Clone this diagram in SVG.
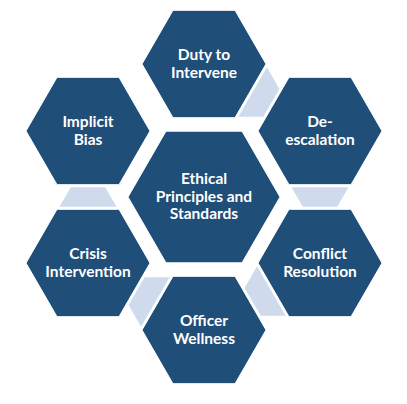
<svg xmlns="http://www.w3.org/2000/svg" width="407" height="404" viewBox="0 0 407 404">
<style>
.hex{fill:#1F4E79;stroke:#ffffff;stroke-width:1}
.conn{fill:#CFDAEC;stroke:none}
.lbl{font-family:"Lato","Liberation Sans",sans-serif;font-weight:bold;font-size:15.5px;fill:#ffffff;text-anchor:middle}
</style>
<rect width="407" height="404" fill="#ffffff"/>
<g id="connectors">
<polygon class="conn" points="238.38,116.83 266.94,67.37 279.40,88.95 263.30,116.83"/>
<polygon class="conn" points="291.44,187.19 348.56,187.19 337.23,206.81 302.77,206.81"/>
<polygon class="conn" points="257.06,266.37 285.62,315.83 260.70,315.83 244.60,287.95"/>
<polygon class="conn" points="169.62,277.17 141.06,326.63 128.60,305.05 144.70,277.17"/>
<polygon class="conn" points="59.44,206.81 116.56,206.81 105.23,187.19 70.77,187.19"/>
</g>
<g id="center">
<polygon class="hex" points="128,197 166,131.18 242,131.18 280,197 242,262.82 166,262.82"/>
<text class="lbl"><tspan x="204" y="184">Ethical</tspan><tspan x="204" y="201.7">Principles and</tspan><tspan x="204" y="219.3">Standards</tspan></text>
</g>
<g id="duty">
<polygon class="hex" points="142,64 173,10.31 235,10.31 266,64 235,117.69 173,117.69"/>
<text class="lbl"><tspan x="204" y="60.3">Duty to</tspan><tspan x="204" y="78">Intervene</tspan></text>
</g>
<g id="deescalation">
<polygon class="hex" points="258,131 289,77.31 351,77.31 382,131 351,184.69 289,184.69"/>
<text class="lbl"><tspan x="320" y="127.3">De-</tspan><tspan x="320" y="145">escalation</tspan></text>
</g>
<g id="conflict">
<polygon class="hex" points="258,263 289,209.31 351,209.31 382,263 351,316.69 289,316.69"/>
<text class="lbl"><tspan x="320" y="259.3">Conflict</tspan><tspan x="320" y="277">Resolution</tspan></text>
</g>
<g id="officer">
<polygon class="hex" points="142,330 173,276.31 235,276.31 266,330 235,383.69 173,383.69"/>
<text class="lbl"><tspan x="204" y="326.3">Officer</tspan><tspan x="204" y="344">Wellness</tspan></text>
</g>
<g id="crisis">
<polygon class="hex" points="26,263 57,209.31 119,209.31 150,263 119,316.69 57,316.69"/>
<text class="lbl"><tspan x="88" y="259.3">Crisis</tspan><tspan x="88" y="277">Intervention</tspan></text>
</g>
<g id="implicit">
<polygon class="hex" points="26,131 57,77.31 119,77.31 150,131 119,184.69 57,184.69"/>
<text class="lbl"><tspan x="88" y="127.3">Implicit</tspan><tspan x="88" y="145">Bias</tspan></text>
</g>
</svg>
